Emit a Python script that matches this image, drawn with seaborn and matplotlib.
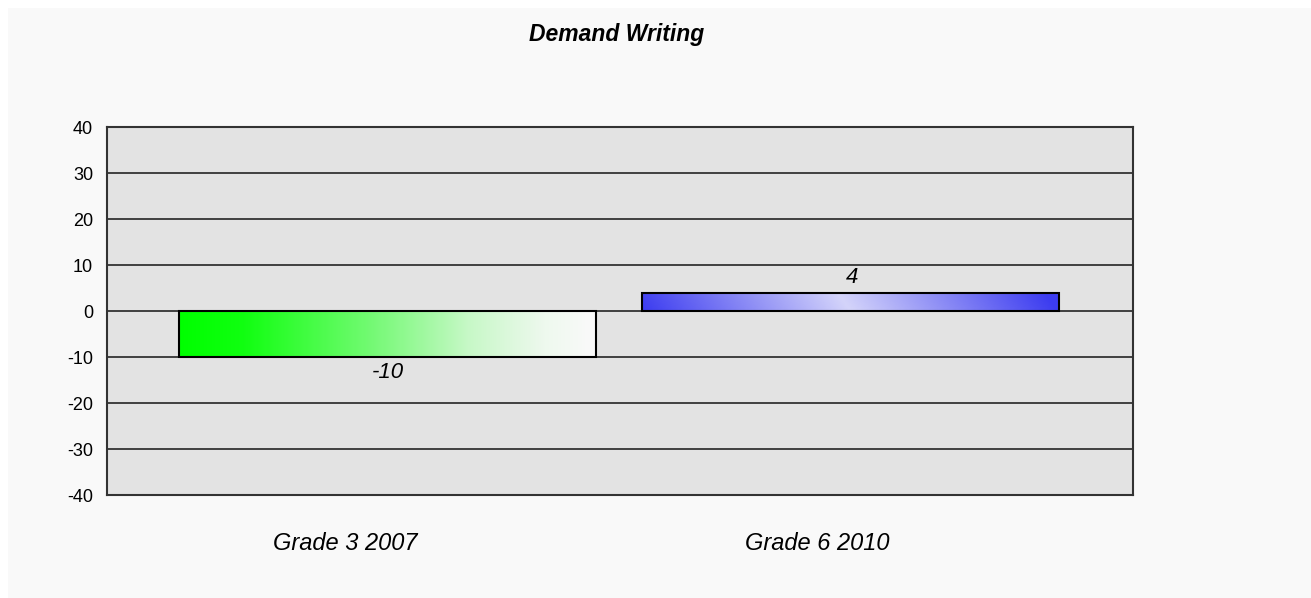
import numpy as np
import pandas as pd
import matplotlib
matplotlib.use("Agg")
import matplotlib.pyplot as plt
import matplotlib.transforms as mtransforms
from matplotlib.patches import Rectangle
import seaborn as sns

# data
categories = ["Grade 3 2007", "Grade 6 2010"]
values = [-10, 4]
bar_colors = ["#00ff00", "#4040f0"]
title = "Demand Writing"
y_ticks = [-40, -30, -20, -10, 0, 10, 20, 30, 40]

sns.set_theme(style="white")
plt.rcParams['font.family'] = ['Liberation Sans', 'DejaVu Sans']
plt.rcParams['text.color'] = 'black'
plt.rcParams['xtick.color'] = 'black'
plt.rcParams['ytick.color'] = 'black'

df = pd.DataFrame({"cat": categories, "val": values})

fig = plt.figure(figsize=(13.11, 5.98), dpi=100)
fig.patch.set_facecolor("white")
# light panel (white strip only at top and left)
fig.patches.append(Rectangle((8 / 1311, 0), 1, 1 - 8 / 598,
                             transform=fig.transFigure, facecolor="#f9f9f9",
                             edgecolor="none", zorder=-10))

ax = fig.add_axes([107 / 1311, 1 - 495 / 598, 1026 / 1311, 368 / 598])
ax.set_facecolor("#e3e3e3")

sns.barplot(data=df, x="cat", y="val", hue="cat", palette=bar_colors,
            legend=False, width=0.9, edgecolor="black", linewidth=1.5,
            ax=ax, zorder=3)

# gradient fills clipped to the bars
green_cmap = matplotlib.colors.LinearSegmentedColormap.from_list(
    "g", [(0.0, "#00ff00"), (0.15, "#10ff10"), (0.45, "#70fa70"),
          (0.7, "#c8f8c8"), (0.88, "#eef9ee"), (1.0, "#fafafa")])
blue_cmap = matplotlib.colors.LinearSegmentedColormap.from_list(
    "b", [(0.0, "#3c3cf0"), (0.5, "#d4d4fa"), (1.0, "#3c3cf0")])

for patch, cmap, kind in zip(ax.patches, [green_cmap, blue_cmap], ["h", "d"]):
    x0, y0 = patch.get_x(), patch.get_y()
    w, h = patch.get_width(), patch.get_height()
    gx = np.linspace(0, 1, 300)
    if kind == "h":
        grad = np.tile(gx, (10, 1))
    else:
        gy = np.linspace(0, 1, 20)[:, None]
        grad = np.clip(gx[None, :] + 0.03 * gy, 0, 1)
    im = ax.imshow(grad, cmap=cmap, aspect="auto", origin="lower",
                   extent=(x0, x0 + w, min(y0, y0 + h), max(y0, y0 + h)),
                   zorder=3.5, vmin=0, vmax=1, interpolation="bilinear")
    im.set_clip_path(patch)
    patch.set_facecolor("none")
    patch.set_zorder(4)

ax.set_xlim(-0.606, 1.61)
ax.set_ylim(-40, 40)
ax.set_yticks(y_ticks)
ax.set_yticklabels([str(t) for t in y_ticks], fontsize=13)
ax.yaxis.grid(True, color="#333333", linewidth=1.3, zorder=1)
ax.xaxis.grid(False)
ax.set_axisbelow(True)
for s in ax.spines.values():
    s.set_color("#333333")
    s.set_linewidth(1.5)
    s.set_visible(True)
ax.tick_params(axis="y", length=0, pad=10)
ax.tick_params(axis="x", length=0, pad=27)
ax.set_xlabel("")
ax.set_ylabel("")

ax.set_xticks([0, 1])
ax.set_xticklabels(categories, fontsize=17, style="italic")
for lbl, dx in zip(ax.get_xticklabels(), [-42, -33]):
    offset = mtransforms.ScaledTranslation(dx / 100, 0, fig.dpi_scale_trans)
    lbl.set_transform(lbl.get_transform() + offset)

# value labels
for i, v in enumerate(values):
    if v < 0:
        ax.text(i, v - 1.0, str(v), ha="center", va="top", fontsize=16,
                style="italic", zorder=5)
    else:
        ax.text(i + 0.003, v + 1.0, str(v), ha="center", va="bottom",
                fontsize=16, style="italic", zorder=5)

fig.text(617 / 1311, 1 - 34 / 598, title, ha="center", va="center",
         fontsize=16.5, fontweight="bold", style="italic")

fig.savefig("out.png", dpi=100, facecolor=fig.get_facecolor())
